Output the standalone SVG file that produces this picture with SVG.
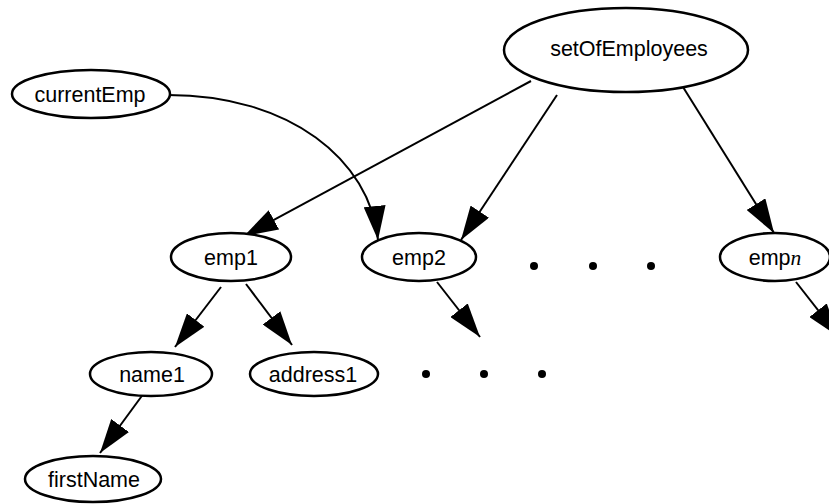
<svg xmlns="http://www.w3.org/2000/svg" width="829" height="504" viewBox="0 0 829 504">
<style>
.node ellipse{fill:#fff;stroke:#000;stroke-width:2.5}
.node text{font-family:"Liberation Sans",Arial,sans-serif;font-size:21.5px;text-anchor:middle;fill:#000}
.edge{fill:none;stroke:#000;stroke-width:2;marker-end:url(#ah)}
.dot{fill:#000}
</style>
<defs>
<marker id="ah" viewBox="0 0 34 22" refX="34" refY="11" markerWidth="34" markerHeight="22" markerUnits="userSpaceOnUse" orient="auto">
<path d="M0,0 L34,11 L0,22 z" fill="#000"/>
</marker>
</defs>
<g id="connectors">
<path class="edge" d="M168,95 C290,95 370,160 378,240"/>
<path class="edge" d="M531,81 L244,236"/>
<path class="edge" d="M557,95 L461,240"/>
<path class="edge" d="M683,87 L774,233"/>
<path class="edge" d="M221,287 L175,347"/>
<path class="edge" d="M246,284 L292,345"/>
<path class="edge" d="M437,282 L480,337"/>
<path class="edge" d="M796,282 L839,337"/>
<path class="edge" d="M144,393 L100,453"/>
</g>
<g id="setOfEmployees" class="node"><ellipse cx="626" cy="50" rx="122" ry="42"/><text x="629" y="56">setOfEmployees</text></g>
<g id="currentEmp" class="node"><ellipse cx="91" cy="94" rx="79" ry="24"/><text x="90" y="102">currentEmp</text></g>
<g id="emp1" class="node"><ellipse cx="231" cy="257" rx="60" ry="24"/><text x="231" y="265">emp1</text></g>
<g id="emp2" class="node"><ellipse cx="419" cy="257" rx="57" ry="24"/><text x="419" y="265">emp2</text></g>
<g id="empn" class="node"><ellipse cx="775" cy="257" rx="55" ry="24"/><text x="775" y="265">emp<tspan font-family="'Liberation Serif',serif" font-style="italic">n</tspan></text></g>
<g id="name1" class="node"><ellipse cx="151" cy="374" rx="61" ry="22"/><text x="152" y="382">name1</text></g>
<g id="address1" class="node"><ellipse cx="314" cy="374" rx="64" ry="22"/><text x="313" y="382">address1</text></g>
<g id="firstName" class="node"><ellipse cx="93" cy="479" rx="68" ry="23"/><text x="94" y="487">firstName</text></g>
<g id="dots">
<circle class="dot" cx="534" cy="266" r="4"/>
<circle class="dot" cx="593" cy="266" r="4"/>
<circle class="dot" cx="651" cy="266" r="4"/>
<circle class="dot" cx="426" cy="374" r="4"/>
<circle class="dot" cx="484" cy="374" r="4"/>
<circle class="dot" cx="542" cy="374" r="4"/>
</g>
</svg>
